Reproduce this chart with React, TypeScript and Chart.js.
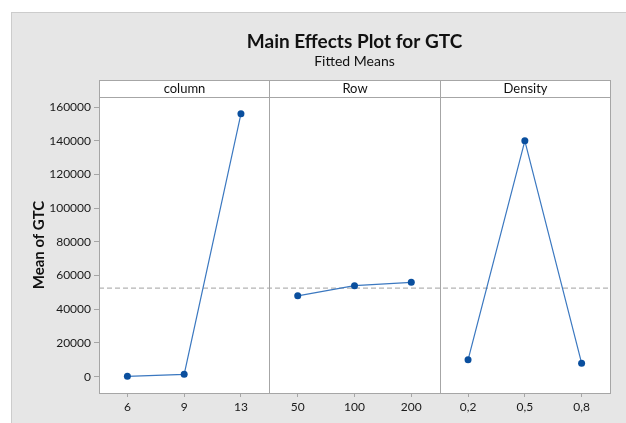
import React, { useEffect, useRef } from 'react';
import { Chart, registerables } from 'chart.js';

Chart.register(...registerables);

// ---- data ----
const categories = ['6', '9', '13', '50', '100', '200', '0,2', '0,5', '0,8'];
const panelNames = ['column', 'Row', 'Density'];
const columnMeans = [200, 1400, 156000];
const rowMeans = [48000, 54000, 56000];
const densityMeans = [10000, 140000, 8000];
const grandMean = 52500;
const yTickValues = [0, 20000, 40000, 60000, 80000, 100000, 120000, 140000, 160000];
const yMin = -9700;
const yMax = 166000;
const chartTitle = 'Main Effects Plot for GTC';
const chartSubtitle = 'Fitted Means';
const yAxisTitle = 'Mean of GTC';

const FONT = 'Lato';
const LINE_COLOR = '#3b78c0';
const POINT_COLOR = '#0a4f9e';
const FRAME_COLOR = '#a6a6a6';

function panelData(panelIndex: number, values: number[]) {
  const arr: (number | null)[] = categories.map(() => null);
  values.forEach((v, i) => {
    arr[panelIndex * 3 + i] = v;
  });
  return arr;
}

const panelsPlugin = {
  id: 'panelsPlugin',
  beforeDatasetsDraw(chart: any) {
    const { ctx, chartArea, scales } = chart;
    const x = scales.x;
    const y = scales.y;
    ctx.save();
    // dashed reference line at grand mean
    const gy = y.getPixelForValue(grandMean);
    ctx.strokeStyle = '#b4b4b4';
    ctx.lineWidth = 1.2;
    ctx.setLineDash([5, 3]);
    ctx.beginPath();
    ctx.moveTo(chartArea.left, gy);
    ctx.lineTo(chartArea.right, gy);
    ctx.stroke();
    ctx.setLineDash([]);
    // panel dividers
    ctx.strokeStyle = FRAME_COLOR;
    ctx.lineWidth = 1;
    for (let p = 1; p < panelNames.length; p++) {
      const bx = Math.round((x.getPixelForValue(p * 3 - 1) + x.getPixelForValue(p * 3)) / 2) + 0.5;
      ctx.beginPath();
      ctx.moveTo(bx, chartArea.top);
      ctx.lineTo(bx, chartArea.bottom);
      ctx.stroke();
    }
    ctx.restore();
  },
  beforeDraw(chart: any) {
    const { ctx, chartArea, scales } = chart;
    const x = scales.x;
    ctx.save();
    ctx.fillStyle = '#ffffff';
    ctx.fillRect(chartArea.left, chartArea.top, chartArea.right - chartArea.left, chartArea.bottom - chartArea.top);
    // header strips
    const stripH = 17;
    const top = chartArea.top - stripH;
    const edges: number[] = [chartArea.left];
    for (let p = 1; p < panelNames.length; p++) {
      edges.push((x.getPixelForValue(p * 3 - 1) + x.getPixelForValue(p * 3)) / 2);
    }
    edges.push(chartArea.right);
    ctx.fillStyle = '#ffffff';
    ctx.fillRect(chartArea.left, top, chartArea.right - chartArea.left, stripH);
    ctx.strokeStyle = FRAME_COLOR;
    ctx.lineWidth = 1;
    ctx.font = `13px ${FONT}`;
    ctx.fillStyle = '#111111';
    ctx.textAlign = 'center';
    ctx.textBaseline = 'middle';
    for (let p = 0; p < panelNames.length; p++) {
      const l = Math.round(edges[p]) + 0.5;
      const r = Math.round(edges[p + 1]) + 0.5;
      ctx.strokeRect(l, Math.round(top) + 0.5, r - l, Math.round(stripH));
      ctx.fillText(panelNames[p], (l + r) / 2, top + stripH / 2 + 0.5);
    }
    ctx.restore();
  },
  afterDraw(chart: any) {
    const { ctx, chartArea } = chart;
    ctx.save();
    ctx.strokeStyle = FRAME_COLOR;
    ctx.lineWidth = 1;
    ctx.strokeRect(
      Math.round(chartArea.left) + 0.5,
      Math.round(chartArea.top) + 0.5,
      Math.round(chartArea.right - chartArea.left),
      Math.round(chartArea.bottom - chartArea.top)
    );
    const cx = (chartArea.left + chartArea.right) / 2;
    ctx.fillStyle = '#111111';
    ctx.textAlign = 'center';
    ctx.textBaseline = 'middle';
    ctx.font = `bold 19px ${FONT}`;
    ctx.fillText(chartTitle, cx, 30);
    ctx.font = `14px ${FONT}`;
    ctx.fillText(chartSubtitle, cx, 49);
    ctx.restore();
  },
};

export default function App() {
  const canvasRef = useRef<HTMLCanvasElement | null>(null);

  useEffect(() => {
    document.body.style.margin = '0';
    const canvas = canvasRef.current;
    if (!canvas) return;
    const mk = (panel: number, values: number[]) => ({
      data: panelData(panel, values),
      borderColor: LINE_COLOR,
      borderWidth: 1.2,
      pointRadius: 3.5,
      pointBackgroundColor: POINT_COLOR,
      pointBorderColor: POINT_COLOR,
      pointBorderWidth: 0,
      spanGaps: false,
      tension: 0,
    });
    const chart = new Chart(canvas, {
      type: 'line',
      data: {
        labels: categories,
        datasets: [mk(0, columnMeans), mk(1, rowMeans), mk(2, densityMeans)],
      },
      options: {
        animation: false,
        responsive: false,
        maintainAspectRatio: false,
        layout: { padding: { left: 0, right: 16, top: 85, bottom: 0 } },
        plugins: {
          legend: { display: false },
          tooltip: { enabled: false },
          title: { display: false },
        },
        scales: {
          x: {
            type: 'category',
            offset: true,
            grid: {
              offset: false,
              drawOnChartArea: false,
              drawTicks: true,
              tickLength: 4,
              color: FRAME_COLOR,
            },
            border: { display: true, color: FRAME_COLOR },
            ticks: {
              color: '#1a1a1a',
              font: { family: FONT, size: 12 },
              padding: 3,
              maxRotation: 0,
              autoSkip: false,
            },
            afterFit: (s: any) => {
              s.height = 30;
            },
          },
          y: {
            type: 'linear',
            min: yMin,
            max: yMax,
            grid: {
              drawOnChartArea: false,
              drawTicks: true,
              tickLength: 5,
              color: FRAME_COLOR,
            },
            border: { display: true, color: FRAME_COLOR },
            ticks: {
              stepSize: 20000,
              color: '#1a1a1a',
              font: { family: FONT, size: 12 },
              padding: 3,
              callback: (v: any) => String(v),
            },
            afterBuildTicks: (s: any) => {
              s.ticks = yTickValues.map((v) => ({ value: v }));
            },
            title: {
              display: true,
              text: yAxisTitle,
              color: '#111111',
              font: { family: FONT, size: 15, weight: 'bold' },
              padding: { top: 20, bottom: 0 },
            },
            afterFit: (s: any) => {
              s.width = 89;
            },
          },
        },
      },
      plugins: [panelsPlugin],
    });
    return () => chart.destroy();
  }, []);

  return (
    <div
      style={{
        position: 'absolute',
        left: 11,
        top: 12,
        width: 615,
        height: 411,
        background: '#e6e6e6',
        borderTop: '1px solid #cccccc',
        borderLeft: '1px solid #cccccc',
        boxSizing: 'border-box',
      }}
    >
      <canvas
        ref={canvasRef}
        width={616}
        height={411}
        style={{ position: 'absolute', left: -2, top: -1, width: 616, height: 411 }}
      />
    </div>
  );
}
